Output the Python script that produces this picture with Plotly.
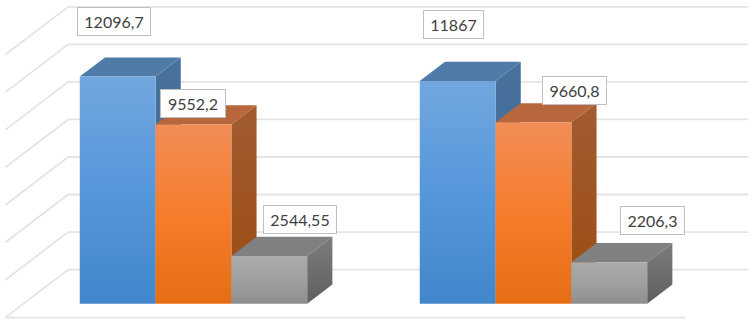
import plotly.graph_objects as go

# data
groups = [0, 1]
series_a = [12096.7, 11867]
series_b = [9552.2, 9660.8]
series_c = [2544.55, 2206.3]
label_a = ["12096,7", "11867"]
label_b = ["9552,2", "9660,8"]
label_c = ["2544,55", "2206,3"]
grid_values = [0, 2000, 4000, 6000, 8000, 10000, 12000, 14000]

# projection of the oblique box: depth 0 = front of floor, depth 1 = back wall
PX_PER_CAT = 340.0
PX_PER_UNIT = 37.54 / 2000
W, H = 754, 321
ORIGIN_X, FLOOR_Y = 175.2, 317.6
DX = 63 / PX_PER_CAT
DY = 48 / PX_PER_UNIT
D0, D1 = 0.29, 0.69
BAR_W = 75.8 / PX_PER_CAT


def P(c, v, d):
    return c + d * DX, v + d * DY


styles = [
    dict(front=["#72A7DF", "#5597DB", "#4287CB"], top="#4F7BA9", side=["#48719C", "#3F6A97"]),
    dict(front=["#F28D56", "#F57D2C", "#E76D14"], top="#B8663B", side=["#A25B31", "#9C4C10"]),
    dict(front=["#ABABAB", "#A0A0A0", "#8E8E8E"], top="#808080", side=["#7C7C7C", "#5F5F5F"]),
]
series = [series_a, series_b, series_c]
labels = [label_a, label_b, label_c]
# label-box centre, in px from each bar's top front-left corner
offsets = [
    [(34.5, -55), (33.5, -56.5)],
    [(37, -21), (79, -32)],
    [(69, -36), (81.5, -42)],
]
# label-box widths in px
box_w = [[72, 59], [64, 63], [72, 63]]

fig = go.Figure()


def grid(xs, ys):
    fig.add_trace(go.Scatter(x=xs, y=ys, mode="lines", hoverinfo="skip",
                             line=dict(color="#E4E4E4", width=1.8)))


L, R = -0.5, 1.5
for v in grid_values:
    x0, y0 = P(L, v, 0)
    x1, y1 = P(L, v, 1)
    x2, y2 = P(R, v, 1)
    grid([x0, x1, x2], [y0, y1, y2])
x0, y0 = P(L, 0, 0)
x1, y1 = P(R, 0, 0)
grid([x0, x1], [y0, y1])


def face(pts, color):
    xs = [p[0] for p in pts] + [pts[0][0]]
    ys = [p[1] for p in pts] + [pts[0][1]]
    if isinstance(color, str):
        kw = dict(fillcolor=color)
    else:
        n = len(color) - 1
        scale = [[k / n, col] for k, col in enumerate(reversed(color))]
        kw = dict(fillgradient=dict(type="vertical", colorscale=scale))
    fig.add_trace(go.Scatter(x=xs, y=ys, mode="lines", fill="toself",
                             line=dict(width=0), hoverinfo="skip", **kw))


annotations = []
for g in range(len(groups)):
    c = groups[g]
    for i, s in enumerate(series):
        v = s[g]
        a = c - 1.5 * BAR_W + i * BAR_W
        b = a + BAR_W
        st = styles[i]
        face([P(b, 0, D0), P(b, 0, D1), P(b, v, D1), P(b, v, D0)], st["side"])
        face([P(a, v, D0), P(b, v, D0), P(b, v, D1), P(a, v, D1)], st["top"])
        face([P(a, 0, D0), P(b, 0, D0), P(b, v, D0), P(a, v, D0)], st["front"])
        ax, ay = P(a, v, D0)
        ox, oy = offsets[i][g]
        annotations.append(dict(
            x=ax, y=ay, xref="x", yref="y", text=labels[i][g], showarrow=False,
            xshift=ox, yshift=-oy, width=box_w[i][g], height=27, align="center",
            font=dict(family="Lato", size=16, color="#404040"),
            bgcolor="#FFFFFF", bordercolor="#BFBFBF", borderwidth=1, borderpad=0,
        ))

fig.update_layout(
    width=W, height=H, margin=dict(l=0, r=0, t=0, b=0),
    paper_bgcolor="#FFFFFF", plot_bgcolor="#FFFFFF", showlegend=False,
    hovermode=False, annotations=annotations,
    xaxis=dict(range=[-ORIGIN_X / PX_PER_CAT, (W - ORIGIN_X) / PX_PER_CAT], visible=False),
    yaxis=dict(range=[(FLOOR_Y - H) / PX_PER_UNIT, FLOOR_Y / PX_PER_UNIT], visible=False),
)
fig.write_html("out.html", config=dict(displayModeBar=False),
               post_script="document.body.style.margin='0';")
